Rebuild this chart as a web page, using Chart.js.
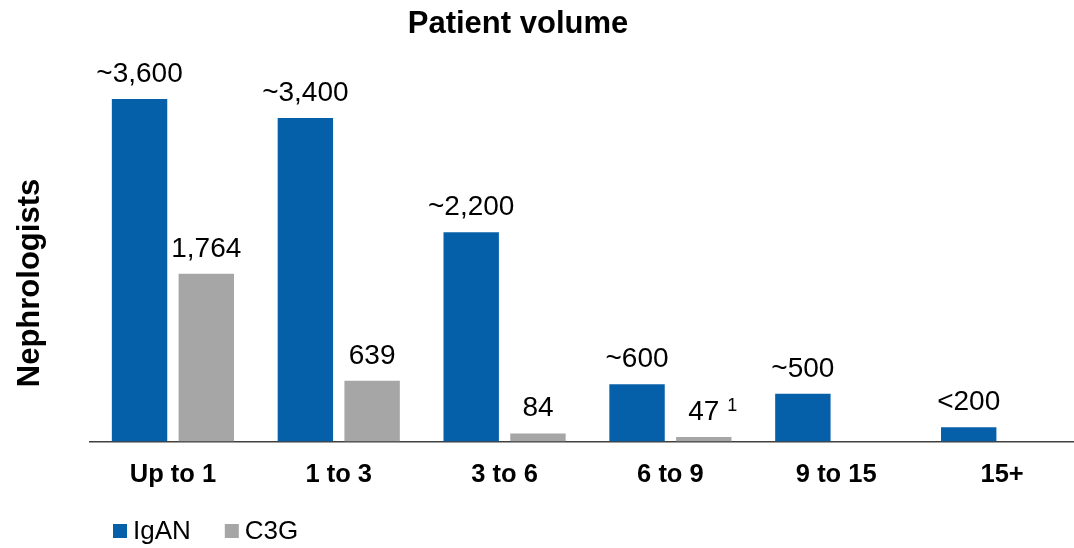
<!DOCTYPE html>
<html>
<head>
<meta charset="utf-8">
<title>Patient volume</title>
<script src="https://cdn.jsdelivr.net/npm/chart.js@4.4.1/dist/chart.umd.min.js"></script>
<style>
    html, body { margin: 0; padding: 0; background: #fff; overflow: hidden; }
    #wrap { width: 1090px; height: 548px; }
</style>
</head>
<body>
<div id="wrap"><canvas id="volumeChart" width="1090" height="548"></canvas></div>
<script>
// Patient volume buckets and nephrologist counts
const categories = ['Up to 1', '1 to 3', '3 to 6', '6 to 9', '9 to 15', '15+'];
const igan = [3600, 3400, 2200, 600, 500, 150];
const c3g = [1764, 639, 84, 47, null, null];
const iganLabels = ['~3,600', '~3,400', '~2,200', '~600', '~500', '<200'];
const c3gLabels = ['1,764', '639', '84', '47', '', ''];
const c3gNotes = ['', '', '', '1', '', ''];

const BLUE = '#0660A9';
const GREY = '#A6A6A6';
const FONT = 'Arial, "Liberation Sans", Helvetica, sans-serif';

// Value labels above each bar, plus titles and legend
const annotate = {
    id: 'annotate',
    afterDatasetsDraw(chart) {
        const ctx = chart.ctx;
        const texts = [iganLabels, c3gLabels];
        const notes = [null, c3gNotes];
        ctx.save();
        ctx.fillStyle = '#000';
        ctx.textAlign = 'center';
        ctx.textBaseline = 'alphabetic';
        chart.data.datasets.forEach((ds, di) => {
            const meta = chart.getDatasetMeta(di);
            meta.data.forEach((bar, i) => {
                const txt = texts[di][i];
                if (!txt || ds.data[i] == null) return;
                const y = bar.y - 17;
                ctx.font = '28px ' + FONT;
                ctx.textAlign = 'center';
                ctx.fillText(txt, bar.x, y);
                const note = notes[di] && notes[di][i];
                if (note) {
                    const w = ctx.measureText(txt).width;
                    ctx.font = '18px ' + FONT;
                    ctx.textAlign = 'left';
                    ctx.fillText(note, bar.x + w / 2 + 8, y - 9);
                }
            });
        });

        // chart title
        ctx.font = 'bold 31px ' + FONT;
        ctx.textAlign = 'center';
        ctx.textBaseline = 'middle';
        ctx.fillText('Patient volume', 518, 24);

        // y axis title
        ctx.save();
        ctx.translate(30, 283);
        ctx.rotate(-Math.PI / 2);
        ctx.fillText('Nephrologists', 0, 0);
        ctx.restore();

        // legend
        let x = 113;
        const ly = 531;
        ctx.font = '26px ' + FONT;
        ctx.textAlign = 'left';
        chart.data.datasets.forEach((ds) => {
            ctx.fillStyle = ds.backgroundColor;
            ctx.fillRect(x, ly - 7, 14, 14);
            ctx.fillStyle = '#000';
            ctx.fillText(ds.label, x + 20, ly + 1);
            x += 20 + ctx.measureText(ds.label).width + 34;
        });
        ctx.restore();
    }
};

new Chart(document.getElementById('volumeChart'), {
    type: 'bar',
    data: {
        labels: categories,
        datasets: [
            { label: 'IgAN', data: igan, backgroundColor: BLUE },
            { label: 'C3G', data: c3g, backgroundColor: GREY }
        ]
    },
    options: {
        responsive: false,
        animation: false,
        layout: { padding: { left: 90, right: 5, top: 61, bottom: 48 } },
        datasets: {
            bar: { categoryPercentage: 0.805, barPercentage: 0.83 }
        },
        plugins: {
            legend: { display: false },
            tooltip: { enabled: false }
        },
        scales: {
            x: {
                grid: { display: false },
                border: { color: '#404040', width: 1.5 },
                ticks: {
                    color: '#000',
                    padding: 10,
                    font: { family: FONT, size: 25.5, weight: 'bold' }
                }
            },
            y: {
                display: false,
                min: 0,
                max: 4000
            }
        }
    },
    plugins: [annotate]
});
</script>
</body>
</html>
